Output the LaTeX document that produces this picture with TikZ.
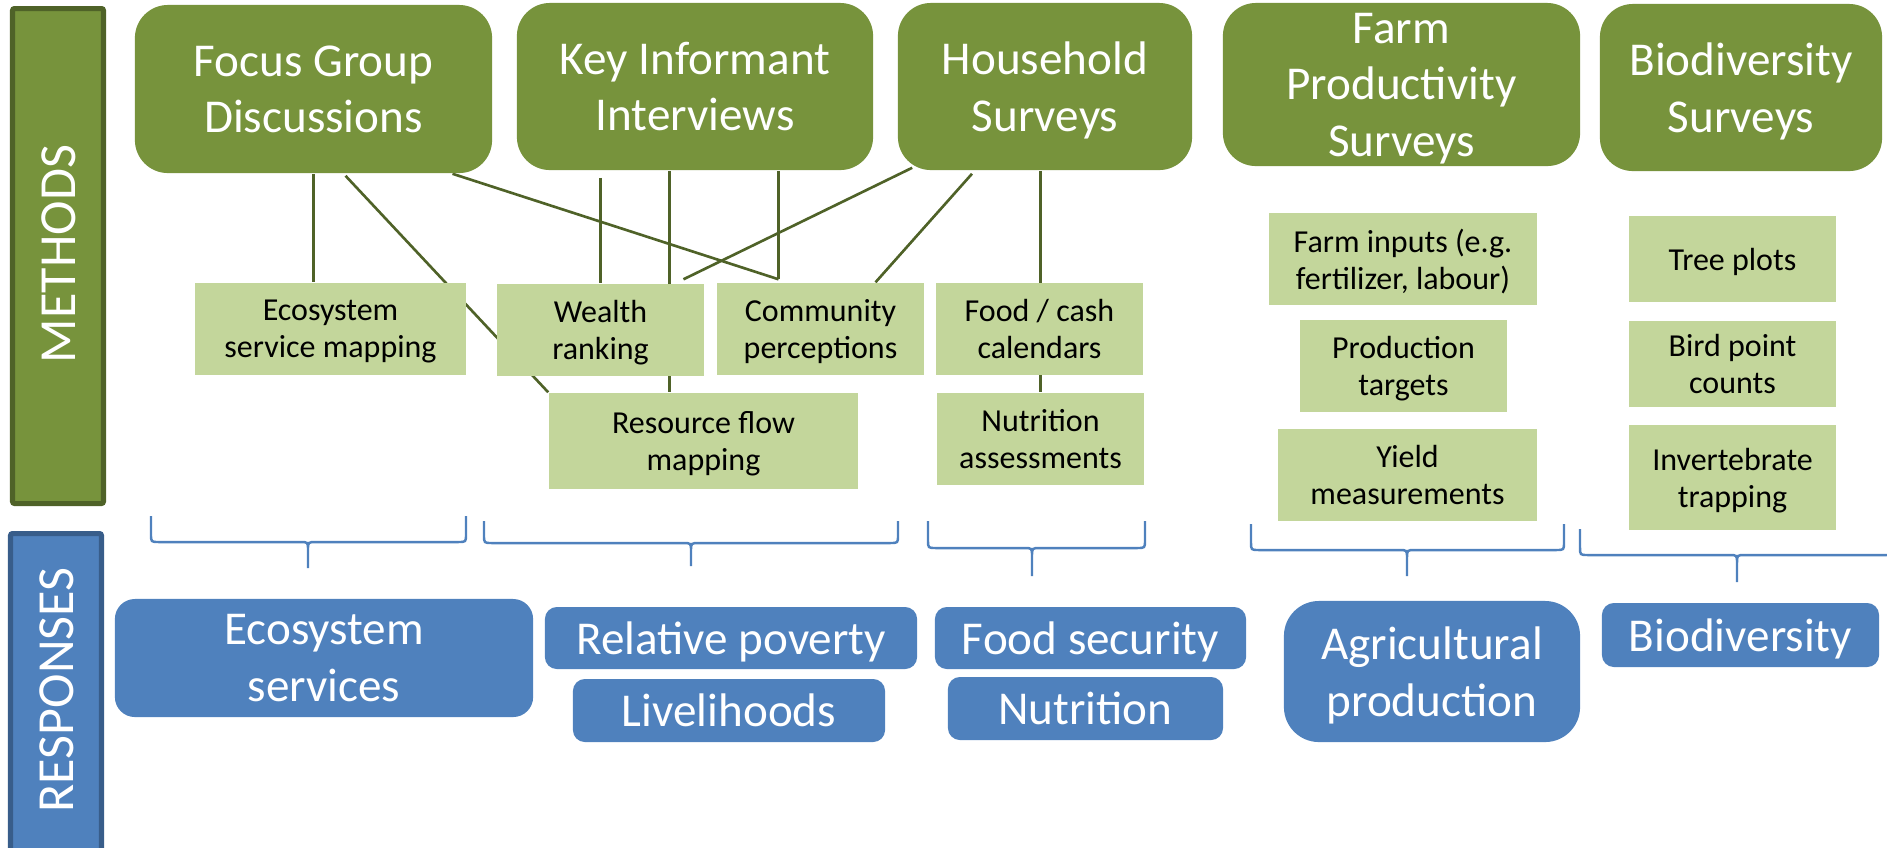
\documentclass[tikz,border=0pt]{standalone}
\usepackage{fontspec}
\setmainfont{Carlito}
\usepackage{tikz}
\usetikzlibrary{positioning}
\usetikzlibrary{calc}
\usetikzlibrary{backgrounds}

\definecolor{methodgreen}{HTML}{77933C}
\definecolor{methodedge}{HTML}{4F6228}
\definecolor{toolgreen}{HTML}{C3D69B}
\definecolor{linkgreen}{HTML}{4F6228}
\definecolor{respblue}{HTML}{4F81BD}
\definecolor{respedge}{HTML}{385D8A}

\begin{document}
\begin{tikzpicture}[x=0.01cm, y=-0.01cm,
  methodbox/.style={fill=methodgreen, rounded corners=0.33cm, text=white, align=center, inner sep=0pt,
    text depth=0pt, font=\fontsize{13.4}{16.1}\selectfont},
  toolbox/.style={fill=toolgreen, align=center, inner sep=0pt, minimum width=2.07cm, minimum height=0.92cm,
    text depth=0pt, font=\fontsize{9.1}{10.5}\selectfont},
  respbox/.style={fill=respblue, rounded corners=0.12cm, text=white, align=center, inner sep=0pt,
    text depth=0pt, font=\fontsize{13.4}{16.1}\selectfont},
  sidetext/.style={rotate=90, text=white, font=\fontsize{14.8}{17}\selectfont},
  link/.style={draw=linkgreen, line width=0.75pt},
  bracket/.style={draw=respblue, line width=0.7pt}]
\useasboundingbox (0,0) rectangle (1887,847);
\clip (0,0) rectangle (1887,847);

% side bars
\draw[fill=methodgreen, draw=methodedge, line width=0.05cm, rounded corners=0.02cm] (12.5,8.5) rectangle (103.5,503.5);
\node[sidetext] (methods) at (59,254) {METHODS};
\draw[fill=respblue, draw=respedge, line width=0.05cm, rounded corners=0.02cm] (10.5,533.5) rectangle (101.5,900);
\node[sidetext] (responses) at (57,690) {RESPONSES};

% methods
\node[methodbox, minimum width=3.57cm, minimum height=1.68cm] (fgd) at (313.5,89) {Focus Group\\Discussions};
\node[methodbox, minimum width=3.56cm, minimum height=1.67cm] (kii) at (695,86.5) {Key Informant\\Interviews};
\node[methodbox, minimum width=2.94cm, minimum height=1.67cm] (hhs) at (1045,86.5) {Household\\Surveys};
\node[methodbox, minimum width=3.57cm, minimum height=1.63cm] (fps) at (1401.5,84.5) {Farm\\Productivity\\Surveys};
\node[methodbox, minimum width=2.82cm, minimum height=1.67cm] (bds) at (1741,87.5) {Biodiversity\\Surveys};

% tools
\node[toolbox, minimum width=2.71cm] (esm) at (330.5,329) {Ecosystem\\service mapping};
\node[toolbox] (wr) at (600.5,330) {Wealth\\ranking};
\node[toolbox] (cp) at (820.5,329) {Community\\perceptions};
\node[toolbox] (fcc) at (1039.5,329) {Food / cash\\calendars};
\node[toolbox, minimum width=3.09cm, minimum height=0.96cm] (rfm) at (703.5,441) {Resource flow\\mapping};
\node[toolbox] (na) at (1040.5,439) {Nutrition\\assessments};
\node[toolbox, minimum width=2.68cm] (fi) at (1403,259) {Farm inputs (e.g.\\fertilizer, labour)};
\node[toolbox] (pt) at (1403.5,366) {Production\\targets};
\node[toolbox, minimum width=2.59cm] (ym) at (1407.5,475) {Yield\\measurements};
\node[toolbox, minimum height=0.86cm] (tp) at (1732.5,259) {Tree plots};
\node[toolbox, minimum height=0.86cm] (bpc) at (1732.5,364) {Bird point\\counts};
\node[toolbox, minimum height=1.05cm] (it) at (1732.5,477.5) {Invertebrate\\trapping};

% links
\coordinate (rfmtop) at ($(rfm.north)+(-34,0)$);
\coordinate (cptop) at ($(cp.north)+(-42,-3)$);
\begin{scope}[on background layer]
\draw[link] (fgd.south) -- (fgd.south |- esm.north);
\draw[link] ($(fgd.south)+(32,2)$) -- (rfm.north west);
\draw[link] ($(fgd.south)+(139,0)$) -- (cptop);
\draw[link] ($(kii.south -| wr.north)+(0,7)$) -- (wr.north);
\draw[link] (kii.south -| rfmtop) -- (rfmtop);
\draw[link] (kii.south -| cptop) -- (cptop);
\draw[link] ($(hhs.south west)+(15,-3)$) -- ($(wr.north)+(83,-4)$);
\draw[link] ($(hhs.south)+(-73,3)$) -- ($(cp.north)+(55,0)$);
\draw[link] (hhs.south -| na.north) -- (na.north);
\end{scope}

% braces
\foreach \xl/\xr/\xm/\yt/\yb/\ye in {151/466/308/516/542/568, 484/898/691/521/543/566,
    928/1145/1032/521/548/576, 1251/1564/1407/524/550/576, 1580/1894/1737/529/555/582}
  \draw[bracket] (\xl,\yt) -- (\xl,\yb-8) .. controls (\xl,\yb) .. (\xl+8,\yb) -- (\xm-8,\yb)
    .. controls (\xm,\yb) .. (\xm,\yb+8) -- (\xm,\ye)
    (\xm,\yb+8) .. controls (\xm,\yb) .. (\xm+8,\yb) -- (\xr-8,\yb) .. controls (\xr,\yb) .. (\xr,\yb-8) -- (\xr,\yt);

% responses
\node[respbox, rounded corners=0.2cm, minimum width=4.18cm, minimum height=1.18cm] (res) at (324,658) {Ecosystem\\services};
\node[respbox, minimum width=3.72cm, minimum height=0.62cm] (rp) at (731,638) {Relative poverty};
\node[respbox, minimum width=3.12cm, minimum height=0.63cm] (lh) at (729,710.5) {Livelihoods};
\node[respbox, minimum width=3.11cm, minimum height=0.62cm] (fs) at (1090.5,638) {Food security};
\node[respbox, minimum width=2.75cm, minimum height=0.63cm] (nu) at (1085.5,708.5) {Nutrition};
\node[respbox, rounded corners=0.35cm, minimum width=2.96cm, minimum height=1.41cm] (ap) at (1432,671.5) {Agricultural\\production};
\node[respbox, minimum width=2.77cm, minimum height=0.64cm] (bio) at (1740.5,635) {Biodiversity};
\end{tikzpicture}
\end{document}
